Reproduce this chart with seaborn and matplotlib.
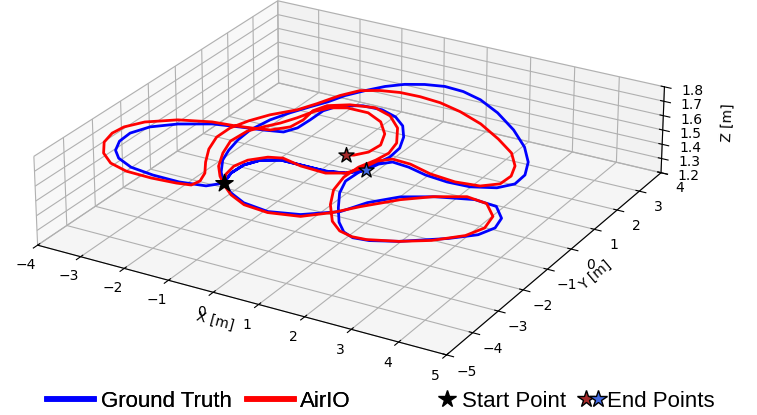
import numpy as np
import matplotlib
matplotlib.use("Agg")
import matplotlib.pyplot as plt
import seaborn as sns
from matplotlib.lines import Line2D
from matplotlib.legend_handler import HandlerTuple

# ground truth trajectory [m]
gt_x = [-1.30, -1.42, -1.40, -1.23, -0.89, -0.43, 0.14, 0.52, 0.79,
        0.87, 1.06, 1.45, 1.91, 2.43, 2.92, 3.39, 3.61, 3.59, 3.37,
        2.98, 2.41, 1.74, 1.13, 0.63, 0.18, -0.23, -0.59, -0.89, -1.14,
        -1.37, -1.51, -1.70, -1.90, -2.07, -2.16, -2.12, -2.02, -1.88, -1.61, -1.30,
        -1.53, -2.08, -2.69, -3.26, -3.70, -3.96, -4.13, -4.16, -3.98, -3.57,
        -2.97, -2.41, -1.93, -1.53, -1.39, -1.37, -1.37, -1.21, -0.79, -0.36,
        0.05, 0.39, 0.67, 0.86, 0.90, 0.79, 0.72, 0.70, 0.87, 1.18,
        1.51, 1.80, 2.07, 2.40, 2.90, 3.64, 4.05, 4.19, 4.10, 3.77,
        3.27, 2.55, 1.97, 1.55, 1.30, 0.71, 0.10, -0.50, -0.94, -1.30,
        -1.42, -1.40, -1.23, -0.89, -0.43, 0.14, 0.52, 0.79]
gt_y = [-2.51, -2.05, -1.61, -1.25, -1.05, -1.05, -1.05, -0.93, -0.62,
        -0.25, -0.03, -0.08, -0.23, -0.30, -0.27, -0.05, 0.28, 0.74, 1.30,
        1.89, 2.51, 3.09, 3.49, 3.68, 3.72, 3.60, 3.40, 3.10, 2.71,
        2.29, 1.85, 1.45, 0.99, 0.49, -0.13, -0.67, -1.17, -1.62, -2.11, -2.51,
        -2.79, -2.90, -2.89, -2.80, -2.57, -2.29, -1.89, -1.46, -1.01, -0.61,
        -0.26, -0.11, 0.00, 0.12, 0.43, 0.89, 1.41, 1.80, 2.03, 2.05,
        1.88, 1.57, 1.11, 0.61, 0.14, -0.35, -0.81, -1.25, -1.77, -2.35,
        -2.89, -3.21, -3.34, -3.29, -3.04, -2.47, -2.05, -1.63, -1.20, -0.79,
        -0.73, -1.00, -1.34, -1.88, -2.48, -2.97, -3.17, -3.07, -2.82, -2.51,
        -2.05, -1.61, -1.25, -1.05, -1.05, -1.05, -0.93, -0.62]
gt_alt = 1.5

# AirIO estimate [m]
est_x = [-1.30, -1.48, -1.54, -1.45, -1.18, -0.90, -0.41, 0.18, 0.52, 0.69,
         0.78, 0.99, 1.41, 1.97, 2.56, 3.07, 3.36, 3.38, 3.23, 2.89,
         2.35, 1.70, 1.06, 0.49, -0.01, -0.47, -0.88, -1.23, -1.46, -1.66,
         -1.85, -2.20, -2.42, -2.56, -2.56, -2.39, -2.12, -1.86, -1.75, -1.80,
         -2.10, -2.65, -3.24, -3.71, -4.09, -4.37, -4.47, -4.43, -4.20, -3.68,
         -3.03, -2.52, -2.17, -1.81, -1.54, -1.49, -1.55, -1.43, -1.05, -0.53,
         -0.07, 0.35, 0.69, 0.79, 0.73, 0.60, 0.58, 0.70, 0.98, 1.38,
         1.71, 2.03, 2.33, 2.90, 3.41, 3.86, 4.02, 3.92, 3.55, 3.08,
         2.51, 2.03, 1.52, 1.20, 0.75, 0.12, -0.45, -0.90, -1.25, -1.53,
         -1.80, -2.05, -2.22, -2.18, -2.01, -1.81, -1.65, -1.52, -1.32, -1.02,
         -0.53, -0.09, 0.27, 0.46, 0.42, 0.24, 0.10]
est_y = [-2.51, -2.14, -1.75, -1.38, -1.06, -0.95, -1.09, -1.13, -0.93, -0.57,
         -0.14, 0.09, 0.06, -0.14, -0.22, -0.14, 0.14, 0.56, 1.01, 1.51,
         1.97, 2.44, 2.76, 2.95, 3.01, 2.99, 2.87, 2.66, 2.24, 1.65,
         1.19, 0.70, 0.23, -0.25, -0.76, -1.32, -1.87, -2.31, -2.66, -2.90,
         -2.97, -3.02, -3.00, -2.84, -2.52, -2.08, -1.64, -1.27, -0.86, -0.44,
         -0.18, -0.11, -0.03, 0.07, 0.40, 0.82, 1.31, 1.67, 1.94, 2.07,
         1.87, 1.43, 0.79, 0.30, -0.12, -0.57, -1.11, -1.71, -2.31, -2.92,
         -3.21, -3.31, -3.28, -3.04, -2.70, -2.20, -1.73, -1.21, -0.77, -0.69,
         -1.02, -1.45, -2.10, -2.58, -3.04, -3.21, -3.14, -2.89, -2.58, -2.28,
         -1.90, -1.34, -0.78, -0.20, 0.13, 0.46, 0.85, 1.27, 1.61, 1.78,
         1.78, 1.52, 1.05, 0.55, 0.14, -0.13, -0.21]
est_alt = 1.5

x_ticks = [-4, -3, -2, -1, 0, 1, 2, 3, 4, 5]
y_ticks = [-5, -4, -3, -2, -1, 0, 1, 2, 3, 4]
z_ticks = [1.2, 1.3, 1.4, 1.5, 1.6, 1.7, 1.8]

blue, red = sns.color_palette(["#0000ff", "#ff0000"])

gt_z = np.full(len(gt_x), gt_alt)
est_z = np.full(len(est_x), est_alt)

fig = plt.figure(figsize=(7.57, 4.15), dpi=100)
ax = fig.add_axes([0.0224, -0.2135, 0.872, 1.590], projection="3d", computed_zorder=False)

ax.plot(gt_x, gt_y, gt_z, color=blue, lw=2, zorder=2)
ax.plot(est_x, est_y, est_z, color=red, lw=2, zorder=3)
ax.scatter(gt_x[0], gt_y[0], gt_z[0], marker="*", s=170, color="black",
           edgecolor="black", depthshade=False, zorder=5)
ax.scatter(gt_x[-1], gt_y[-1], gt_z[-1], marker="*", s=130, color="royalblue",
           edgecolor="black", linewidth=1, depthshade=False, zorder=5)
ax.scatter(est_x[-1], est_y[-1], est_z[-1], marker="*", s=130, color="brown",
           edgecolor="black", linewidth=1, depthshade=False, zorder=5)

ax.set_xlim(x_ticks[0], x_ticks[-1], view_margin=0)
ax.set_ylim(y_ticks[0], y_ticks[-1], view_margin=0)
ax.set_zlim(z_ticks[0], z_ticks[-1], view_margin=0)
ax.set_xticks(x_ticks)
ax.set_yticks(y_ticks)
ax.set_zticks(z_ticks)
ax.set_box_aspect((1, 1, 0.21), zoom=0.965)
ax.view_init(elev=25, azim=-60)

ax.set_xlabel("X [m]", labelpad=-1)
ax.set_ylabel("Y [m]", labelpad=0)
ax.set_zlabel("Z [m]", labelpad=6)

lfont = {"family": "Liberation Sans", "size": 16}
h_gt = Line2D([], [], color=blue, lw=4)
h_est = Line2D([], [], color=red, lw=4)
leg1 = fig.legend([h_gt, h_est], ["Ground Truth", "AirIO"], loc="center",
                  bbox_to_anchor=(0.263, 0.032), ncol=2, frameon=False, prop=lfont,
                  handlelength=2.1, handletextpad=0.3, columnspacing=0.7)

h_start = Line2D([], [], marker="*", ls="none", color="black", markersize=13)
h_end_r = Line2D([], [], marker="*", ls="none", markerfacecolor="brown",
                 markeredgecolor="black", markersize=13)
h_end_b = Line2D([], [], marker="*", ls="none", markerfacecolor="royalblue",
                 markeredgecolor="black", markersize=13)
leg2 = fig.legend([h_start, (h_end_r, h_end_b)], ["Start Point", "End Points"],
                  handler_map={tuple: HandlerTuple(ndivide=2, pad=0.1)},
                  loc="center", bbox_to_anchor=(0.76, 0.032), ncol=2, frameon=False,
                  prop=lfont, handlelength=1.0, handletextpad=0.18, columnspacing=0.64)
fig.add_artist(leg1)

fig.savefig("out.png", dpi=100)
